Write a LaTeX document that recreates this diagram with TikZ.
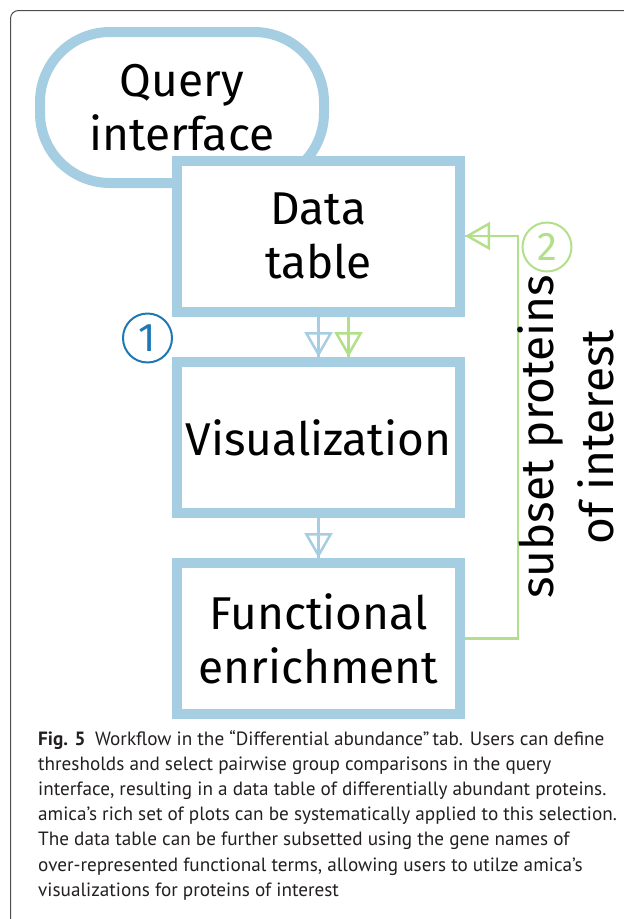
\documentclass[tikz,border=0pt]{standalone}
\usepackage{fontspec}
\setmainfont{Fira Sans}
\newfontfamily\capfont{PT Sans}
\usetikzlibrary{arrows.meta,calc}
\definecolor{paleblue}{HTML}{A6CEE3}
\definecolor{palegreen}{HTML}{B2DF8A}
\definecolor{deepblue}{HTML}{1F78B4}
\definecolor{framegray}{HTML}{4D4D4D}
\definecolor{captext}{HTML}{231F20}
\begin{document}
\begin{tikzpicture}[x=1pt,y=-1pt,
  stepbox/.style={draw=paleblue, line width=10pt, fill=white,
    minimum width=283pt, minimum height=151pt, inner sep=0pt,
    align=center, font=\fontsize{46}{54}\selectfont},
  flow/.style={line width=2.5pt},
  opentip/.style={-{Triangle[open,length=25pt,width=28pt]}},
  badge/.style={circle, draw, line width=2pt, minimum size=49pt,
    inner sep=0pt, font=\fontsize{40}{40}\selectfont}]
\useasboundingbox (0,0) rectangle (624,919);
% outer frame, cut by the page edges
\begin{scope}
  \clip (0,0) rectangle (624,919);
  \draw[framegray, line width=1pt, rounded corners=8pt] (10.5,10.5) rectangle (660,940);
\end{scope}

% workflow steps
\node[stepbox, rounded corners=70pt, minimum width=284pt] (qi) at (182,107.5) {Query\\interface};
\node[stepbox] (dt) at (318.5,236) {Data\\table};
\node[stepbox] (vis) at (318.5,437.5) {Visualization};
\node[stepbox] (fe) at (318.5,638.5) {Functional\\enrichment};

% step 1: data table to plots
\draw[flow, paleblue] (dt.south) -- (vis.north);
\draw[flow, paleblue, opentip] (dt.south) -- (vis.north);
\draw[flow, palegreen] ([xshift=30pt]dt.south) -- ([xshift=30pt]vis.north);
\draw[flow, palegreen, opentip] ([xshift=30pt]dt.south) -- ([xshift=30pt]vis.north);
\draw[flow, paleblue] (vis.south) -- (fe.north);
\draw[flow, paleblue, opentip] (vis.south) -- (fe.north);

% step 2: feedback loop
\coordinate (fb) at (518,236);
\draw[flow, palegreen] (fe.east) -| (fb) -- (dt.east);
\draw[flow, palegreen, opentip] (fb) -- (dt.east);

\node[badge, draw=deepblue, text=deepblue] (b1) at (147.5,338) {1};
\node[badge, draw=palegreen, text=palegreen] (b2) at (547,247) {2};

\node[rotate=90, align=center, inner sep=0pt, font=\fontsize{46}{60}\selectfont] (sub) at (566,437) {subset proteins\\of interest};

% caption
\node[anchor=north west, align=left, inner sep=0pt, text=captext,
  font=\capfont\fontsize{19.2}{25.2}\selectfont] (cap) at (38,730)
 {\textbf{Fig. 5}\enspace Workflow in the “Differential abundance”\,tab. Users can define\\
  thresholds and select pairwise group comparisons in the query\\
  interface, resulting in a data table of differentially abundant proteins.\\
  amica’s rich set of plots can be systematically applied to this selection.\\
  The data table can be further subsetted using the gene names of\\
  over-represented functional terms, allowing users to utilze amica’s\\
  visualizations for proteins of interest};
\end{tikzpicture}
\end{document}
